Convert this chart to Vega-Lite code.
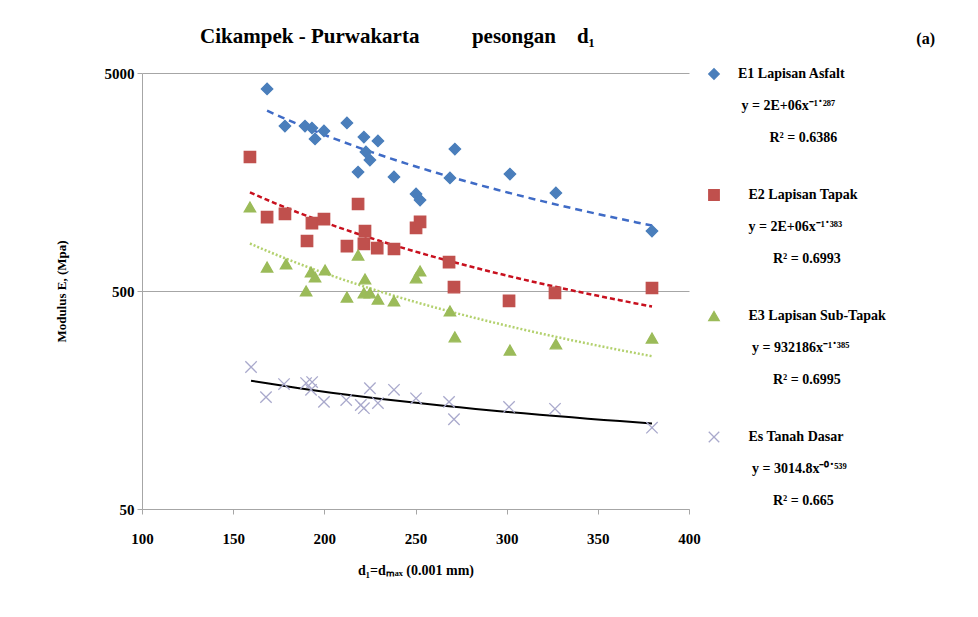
{
  "$schema": "https://vega.github.io/schema/vega-lite/v6.json",
  "width": 547,
  "height": 436,
  "padding": {"left": 55, "top": 26, "right": 5, "bottom": 5},
  "background": "white",
  "config": {
    "view": {"stroke": null},
    "font": "Liberation Serif",
    "axis": {"labelFont": "Liberation Serif", "titleFont": "Liberation Serif", "labelFontWeight": "bold", "titleFontWeight": "bold", "labelColor": "black", "titleColor": "black"}
  },
  "title": {
    "text": "Cikampek - Purwakarta\u00a0\u00a0\u00a0\u00a0\u00a0\u00a0\u00a0\u00a0\u00a0\u00a0pesongan\u00a0\u00a0\u00a0\u00a0d\u2081",
    "anchor": "middle",
    "frame": "group",
    "font": "Liberation Serif",
    "fontSize": 21,
    "fontWeight": "bold",
    "color": "black",
    "offset": -16,
    "dx": -18
  },
  "data": {
    "values": [
      {"d1": 168.6, "E": 4224, "series": "E1 Lapisan Asfalt"},
      {"d1": 178.4, "E": 2856, "series": "E1 Lapisan Asfalt"},
      {"d1": 189.4, "E": 2856, "series": "E1 Lapisan Asfalt"},
      {"d1": 193.2, "E": 2797, "series": "E1 Lapisan Asfalt"},
      {"d1": 199.8, "E": 2710, "series": "E1 Lapisan Asfalt"},
      {"d1": 194.9, "E": 2491, "series": "E1 Lapisan Asfalt"},
      {"d1": 212.4, "E": 2950, "series": "E1 Lapisan Asfalt"},
      {"d1": 221.7, "E": 2541, "series": "E1 Lapisan Asfalt"},
      {"d1": 229.4, "E": 2439, "series": "E1 Lapisan Asfalt"},
      {"d1": 222.8, "E": 2171, "series": "E1 Lapisan Asfalt"},
      {"d1": 225.0, "E": 1994, "series": "E1 Lapisan Asfalt"},
      {"d1": 218.5, "E": 1757, "series": "E1 Lapisan Asfalt"},
      {"d1": 238.2, "E": 1667, "series": "E1 Lapisan Asfalt"},
      {"d1": 250.3, "E": 1393, "series": "E1 Lapisan Asfalt"},
      {"d1": 252.5, "E": 1307, "series": "E1 Lapisan Asfalt"},
      {"d1": 271.6, "E": 2239, "series": "E1 Lapisan Asfalt"},
      {"d1": 268.9, "E": 1650, "series": "E1 Lapisan Asfalt"},
      {"d1": 301.8, "E": 1720, "series": "E1 Lapisan Asfalt"},
      {"d1": 327.0, "E": 1409, "series": "E1 Lapisan Asfalt"},
      {"d1": 379.7, "E": 942, "series": "E1 Lapisan Asfalt"},
      {"d1": 159.2, "E": 2059, "series": "E2 Lapisan Tapak"},
      {"d1": 168.6, "E": 1092, "series": "E2 Lapisan Tapak"},
      {"d1": 178.4, "E": 1128, "series": "E2 Lapisan Tapak"},
      {"d1": 193.2, "E": 1025, "series": "E2 Lapisan Tapak"},
      {"d1": 199.8, "E": 1069, "series": "E2 Lapisan Tapak"},
      {"d1": 190.5, "E": 848, "series": "E2 Lapisan Tapak"},
      {"d1": 218.5, "E": 1253, "series": "E2 Lapisan Tapak"},
      {"d1": 222.3, "E": 942, "series": "E2 Lapisan Tapak"},
      {"d1": 212.4, "E": 804, "series": "E2 Lapisan Tapak"},
      {"d1": 221.7, "E": 822, "series": "E2 Lapisan Tapak"},
      {"d1": 229.0, "E": 787, "series": "E2 Lapisan Tapak"},
      {"d1": 238.2, "E": 779, "series": "E2 Lapisan Tapak"},
      {"d1": 250.3, "E": 973, "series": "E2 Lapisan Tapak"},
      {"d1": 252.5, "E": 1037, "series": "E2 Lapisan Tapak"},
      {"d1": 268.4, "E": 679, "series": "E2 Lapisan Tapak"},
      {"d1": 271.1, "E": 521, "series": "E2 Lapisan Tapak"},
      {"d1": 301.3, "E": 450, "series": "E2 Lapisan Tapak"},
      {"d1": 326.5, "E": 490, "series": "E2 Lapisan Tapak"},
      {"d1": 379.7, "E": 516, "series": "E2 Lapisan Tapak"},
      {"d1": 159.2, "E": 1214, "series": "E3 Lapisan Sub-Tapak"},
      {"d1": 168.6, "E": 644, "series": "E3 Lapisan Sub-Tapak"},
      {"d1": 179.0, "E": 665, "series": "E3 Lapisan Sub-Tapak"},
      {"d1": 192.7, "E": 611, "series": "E3 Lapisan Sub-Tapak"},
      {"d1": 194.9, "E": 580, "series": "E3 Lapisan Sub-Tapak"},
      {"d1": 200.4, "E": 624, "series": "E3 Lapisan Sub-Tapak"},
      {"d1": 190.0, "E": 500, "series": "E3 Lapisan Sub-Tapak"},
      {"d1": 218.5, "E": 731, "series": "E3 Lapisan Sub-Tapak"},
      {"d1": 222.3, "E": 568, "series": "E3 Lapisan Sub-Tapak"},
      {"d1": 212.4, "E": 469, "series": "E3 Lapisan Sub-Tapak"},
      {"d1": 221.7, "E": 490, "series": "E3 Lapisan Sub-Tapak"},
      {"d1": 225.0, "E": 490, "series": "E3 Lapisan Sub-Tapak"},
      {"d1": 229.4, "E": 459, "series": "E3 Lapisan Sub-Tapak"},
      {"d1": 238.2, "E": 450, "series": "E3 Lapisan Sub-Tapak"},
      {"d1": 252.5, "E": 618, "series": "E3 Lapisan Sub-Tapak"},
      {"d1": 250.3, "E": 574, "series": "E3 Lapisan Sub-Tapak"},
      {"d1": 268.9, "E": 405, "series": "E3 Lapisan Sub-Tapak"},
      {"d1": 271.6, "E": 308, "series": "E3 Lapisan Sub-Tapak"},
      {"d1": 301.8, "E": 268, "series": "E3 Lapisan Sub-Tapak"},
      {"d1": 327.0, "E": 286, "series": "E3 Lapisan Sub-Tapak"},
      {"d1": 379.7, "E": 304, "series": "E3 Lapisan Sub-Tapak"},
      {"d1": 159.8, "E": 224, "series": "Es Tanah Dasar"},
      {"d1": 168.0, "E": 163, "series": "Es Tanah Dasar"},
      {"d1": 177.9, "E": 187, "series": "Es Tanah Dasar"},
      {"d1": 190.0, "E": 189, "series": "Es Tanah Dasar"},
      {"d1": 193.3, "E": 191, "series": "Es Tanah Dasar"},
      {"d1": 192.7, "E": 176, "series": "Es Tanah Dasar"},
      {"d1": 199.8, "E": 155, "series": "Es Tanah Dasar"},
      {"d1": 212.0, "E": 158, "series": "Es Tanah Dasar"},
      {"d1": 221.7, "E": 145, "series": "Es Tanah Dasar"},
      {"d1": 220.0, "E": 150, "series": "Es Tanah Dasar"},
      {"d1": 225.0, "E": 179, "series": "Es Tanah Dasar"},
      {"d1": 229.4, "E": 153, "series": "Es Tanah Dasar"},
      {"d1": 238.2, "E": 176, "series": "Es Tanah Dasar"},
      {"d1": 250.3, "E": 161, "series": "Es Tanah Dasar"},
      {"d1": 268.4, "E": 155, "series": "Es Tanah Dasar"},
      {"d1": 271.1, "E": 129, "series": "Es Tanah Dasar"},
      {"d1": 301.3, "E": 147, "series": "Es Tanah Dasar"},
      {"d1": 326.5, "E": 144, "series": "Es Tanah Dasar"},
      {"d1": 379.7, "E": 118, "series": "Es Tanah Dasar"}
    ]
  },
  "encoding": {
    "x": {
      "field": "d1", "type": "quantitative",
      "scale": {"domain": [100, 400], "nice": false, "zero": false},
      "axis": {
        "title": "d\u2081=d\u2098\u2090\u2093 (0.001 mm)",
        "values": [100, 150, 200, 250, 300, 350, 400],
        "grid": false, "labelFlush": false, "labelOverlap": false,
        "labelFontSize": 15, "titleFontSize": 14,
        "domainColor": "#A6A6A6", "tickColor": "#A6A6A6", "tickSize": 5,
        "labelPadding": 17, "titlePadding": 17
      }
    },
    "y": {
      "field": "E", "type": "quantitative",
      "scale": {"type": "log", "domain": [50, 5000], "nice": false},
      "axis": {
        "title": "Modulus E, (Mpa)",
        "values": [50, 500, 5000], "format": "d",
        "grid": true, "gridColor": "#A6A6A6", "gridWidth": 1,
        "labelFlush": false, "labelOverlap": false,
        "labelFontSize": 15, "titleFontSize": 13,
        "domainColor": "#A6A6A6", "tickColor": "#A6A6A6", "tickSize": 5,
        "labelPadding": 3, "titlePadding": 36
      }
    }
  },
  "layer": [
    {
      "transform": [{"filter": "datum.series == 'E1 Lapisan Asfalt'"}, {"regression": "E", "on": "d1", "method": "pow"}],
      "mark": {"type": "line", "color": "#3F6BC6", "strokeWidth": 2.5, "strokeDash": [7, 5]},
      "encoding": {}
    },
    {
      "transform": [{"filter": "datum.series == 'E2 Lapisan Tapak'"}, {"regression": "E", "on": "d1", "method": "pow"}],
      "mark": {"type": "line", "color": "#C8101E", "strokeWidth": 2.5, "strokeDash": [5, 3]},
      "encoding": {}
    },
    {
      "transform": [{"filter": "datum.series == 'E3 Lapisan Sub-Tapak'"}, {"regression": "E", "on": "d1", "method": "pow"}],
      "mark": {"type": "line", "color": "#B3D16E", "strokeWidth": 2.5, "strokeDash": [2, 2]},
      "encoding": {}
    },
    {
      "transform": [{"filter": "datum.series == 'Es Tanah Dasar'"}, {"regression": "E", "on": "d1", "method": "pow"}],
      "mark": {"type": "line", "color": "black", "strokeWidth": 2},
      "encoding": {}
    },
    {
      "mark": {"type": "point", "filled": true, "opacity": 1, "size": 130, "strokeWidth": 1.3},
      "encoding": {
        "color": {
          "field": "series", "type": "nominal",
          "scale": {"domain": ["E1 Lapisan Asfalt", "E2 Lapisan Tapak", "E3 Lapisan Sub-Tapak", "Es Tanah Dasar"], "range": ["#4A7EBB", "#C0504D", "#9BBB59", "#A9A9CC"]},
          "legend": {
            "title": "(a)",
            "orient": "none", "legendX": 565, "legendY": -42,
            "titleFont": "Liberation Serif", "titleFontSize": 16, "titleFontWeight": "bold", "titleColor": "black",
            "titleAnchor": "end", "titlePadding": 20,
            "labelFont": "Liberation Serif", "labelFontSize": 14, "labelFontWeight": "bold", "labelColor": "black",
            "labelLimit": 400, "labelOffset": 17, "labelBaseline": "middle",
            "rowPadding": 42, "symbolSize": 110, "symbolStrokeWidth": 1.3,
            "labelExpr": "datum.value == 'E1 Lapisan Asfalt' ? ['E1 Lapisan Asfalt', '\u200b\u00a0\u200b', '\u200b\u00a0y = 2E+06x\u207b\u00b9\u02d9\u00b2\u2078\u2077', '\u200b\u00a0\u200b', '\u200b\u00a0\u00a0\u00a0\u00a0\u00a0\u00a0\u00a0\u00a0\u00a0R\u00b2 = 0.6386'] : datum.value == 'E2 Lapisan Tapak' ? ['\u200b\u00a0\u00a0\u00a0E2 Lapisan Tapak', '\u200b\u00a0\u200b', '\u200b\u00a0\u00a0\u00a0y = 2E+06x\u207b\u00b9\u02d9\u00b3\u2078\u00b3', '\u200b\u00a0\u200b', '\u200b\u00a0\u00a0\u00a0\u00a0\u00a0\u00a0\u00a0\u00a0\u00a0\u00a0R\u00b2 = 0.6993'] : datum.value == 'E3 Lapisan Sub-Tapak' ? ['\u200b\u00a0\u00a0\u00a0E3 Lapisan Sub-Tapak\u00a0\u00a0\u00a0\u00a0\u00a0\u00a0\u00a0\u00a0\u00a0\u00a0\u00a0\u00a0\u00a0\u00a0\u200b', '\u200b\u00a0\u200b', '\u200b\u00a0\u00a0\u00a0\u00a0y = 932186x\u207b\u00b9\u02d9\u00b3\u2078\u2075', '\u200b\u00a0\u200b', '\u200b\u00a0\u00a0\u00a0\u00a0\u00a0\u00a0\u00a0\u00a0\u00a0\u00a0R\u00b2 = 0.6995'] : ['\u200b\u00a0\u00a0\u00a0Es Tanah Dasar', '\u200b\u00a0\u200b', '\u200b\u00a0\u00a0\u00a0\u00a0y = 3014.8x\u207b\u2070\u02d9\u2075\u00b3\u2079', '\u200b\u00a0\u200b', '\u200b\u00a0\u00a0\u00a0\u00a0\u00a0\u00a0\u00a0\u00a0\u00a0\u00a0R\u00b2 = 0.665']"
          }
        },
        "stroke": {
          "field": "series", "type": "nominal",
          "scale": {"domain": ["E1 Lapisan Asfalt", "E2 Lapisan Tapak", "E3 Lapisan Sub-Tapak", "Es Tanah Dasar"], "range": ["#4A7EBB", "#C0504D", "#9BBB59", "#A9A9CC"]},
          "legend": null
        },
        "shape": {
          "field": "series", "type": "nominal",
          "scale": {"domain": ["E1 Lapisan Asfalt", "E2 Lapisan Tapak", "E3 Lapisan Sub-Tapak", "Es Tanah Dasar"], "range": ["diamond", "square", "triangle-up", "M-1,-1L1,1M-1,1L1,-1"]},
          "legend": null
        }
      }
    }
  ]
}
